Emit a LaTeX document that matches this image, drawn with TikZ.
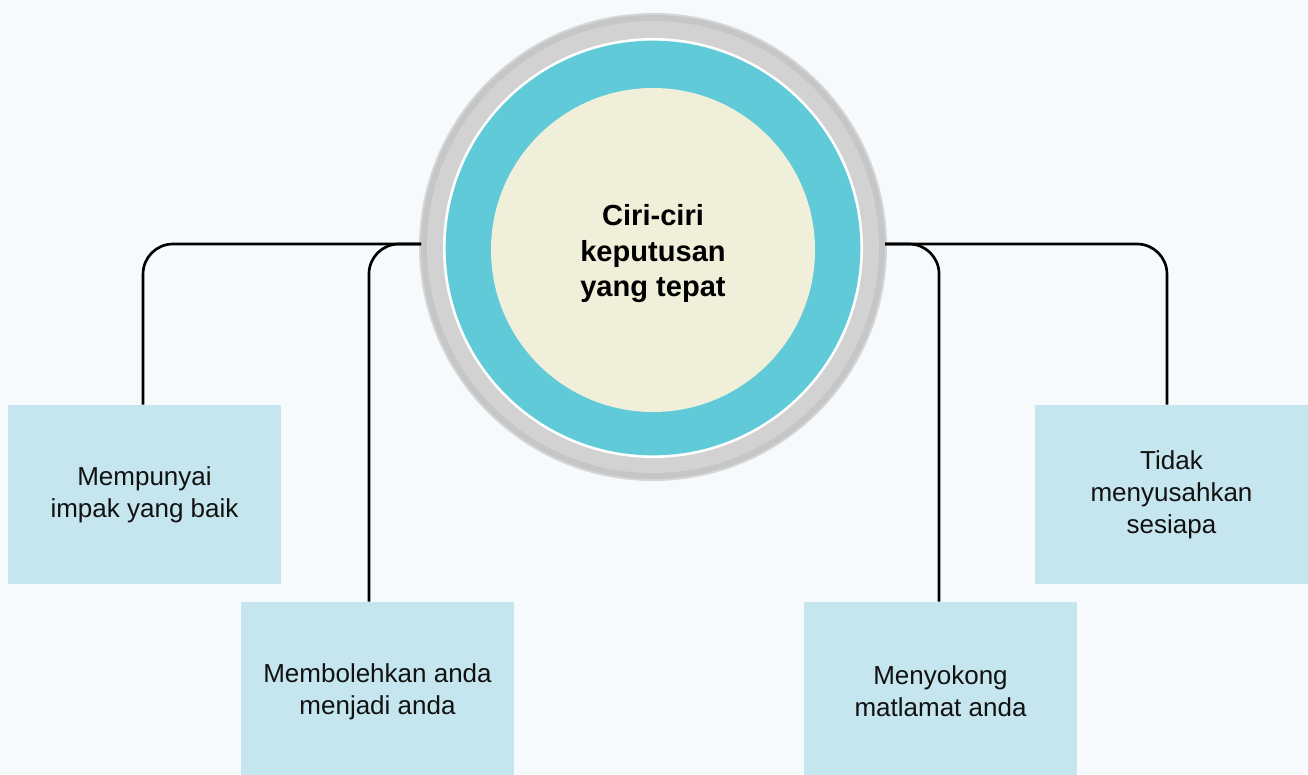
\documentclass[tikz,border=0pt]{standalone}
\usepackage{fontspec}
\setmainfont{Liberation Sans}
\usetikzlibrary{calc}

\definecolor{bgc}{HTML}{F7FAFD}
\definecolor{ringedge}{HTML}{C6C6C6}
\definecolor{ringgrey}{HTML}{D2D2D2}
\definecolor{ringcyan}{HTML}{60CAD8}
\definecolor{cream}{HTML}{F0EFDA}
\definecolor{boxc}{HTML}{C5E6EE}
\definecolor{ink}{HTML}{111111}

\begin{document}
\begin{tikzpicture}[x=0.75pt,y=-0.75pt,
  leaf/.style={fill=boxc, minimum width=204.75pt, minimum height=134.25pt,
    inner sep=0pt, align=center, text=ink,
    font=\fontsize{19.5}{24}\selectfont},
  link/.style={line width=2pt, draw=black, rounded corners=22.5pt},
  title/.style={align=center, text=black,
    font=\bfseries\fontsize{21.8}{26.6}\selectfont}]

\clip (0,0) rectangle (1308,774);
\fill[bgc] (0,0) rectangle (1308,774);

% central emblem: grey rim, white hairline, cyan band, cream disc
\fill[ringedge!70!bgc] (653,247) circle[radius=175.5pt];
\fill[ringedge] (653,247) circle[radius=174pt];
\fill[ringgrey] (653,247) circle[radius=169.5pt];
\fill[white] (653,248) circle[radius=157.5pt];
\fill[ringcyan] (653,248) circle[radius=155.5pt];
\node[circle, fill=cream, minimum size=243pt, inner sep=0pt] (hub) at (653,250) {};
\node[title] (ttl) at (653,254) {Ciri-ciri\\keputusan\\yang tepat};

% branch points on the rim
\coordinate (jl) at (421,244);
\coordinate (jr) at (885,244);

% leaf boxes
\node[leaf] (b1) at (144.5,494.5) {Mempunyai\\impak yang baik};
\node[leaf] (b2) at (377.5,691.5) {Membolehkan anda\\menjadi anda};
\node[leaf] (b3) at (940.5,691.5) {Menyokong\\matlamat anda};
\node[leaf] (b4) at (1171.5,494.5) {Tidak\\menyusahkan\\sesiapa};

% connectors
\draw[link] (jl) -- ([xshift=-1.1pt]b1.north |- jl) -- ([xshift=-1.1pt]b1.north);
\draw[link] (jl) -- ([xshift=-6.4pt]b2.north |- jl) -- ([xshift=-6.4pt]b2.north);
\draw[link] (jr) -- ([xshift=-1.1pt]b3.north |- jr) -- ([xshift=-1.1pt]b3.north);
\draw[link] (jr) -- ([xshift=-3.4pt]b4.north |- jr) -- ([xshift=-3.4pt]b4.north);
\end{tikzpicture}
\end{document}
